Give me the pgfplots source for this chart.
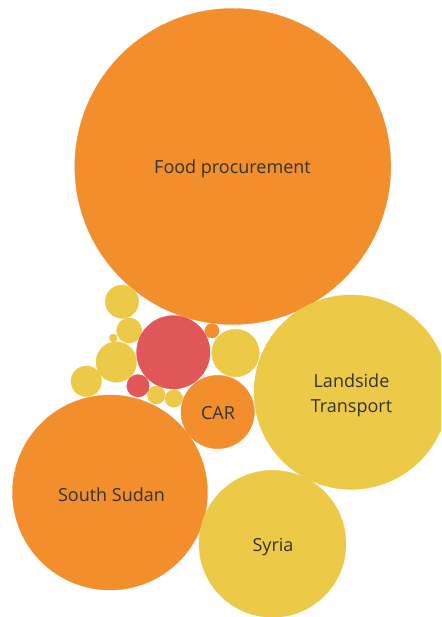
\documentclass[border=0pt]{standalone}
\usepackage{pgfplots}
\pgfplotsset{compat=1.18}
\usepackage{fontspec}
\setmainfont{Open Sans}
\definecolor{torange}{HTML}{F28E2B}
\definecolor{tyellow}{HTML}{EDC948}
\definecolor{tred}{HTML}{E15759}
\definecolor{labelc}{HTML}{333333}
\pgfplotsset{bubble/.style={scatter, only marks, mark=*, color=#1,
  mark options={draw=#1, fill=#1, line width=0.3pt},
  scatter/@pre marker code/.code={\begin{scope}[mark size=\rad]},
  scatter/@post marker code/.code={\end{scope}}}}
\begin{document}
\begin{tikzpicture}
\begin{axis}[
  scale only axis, width=441pt, height=617pt,
  xmin=0, xmax=441, ymin=0, ymax=617, y dir=reverse,
  hide axis, clip marker paths=true,
  visualization depends on={\thisrow{r} \as \rad},
]
\addplot[bubble=torange] table {
x y r
232.8 166.5 158
110 492.5 97.5
217.7 412 36.7
212 330.8 7.2
};
\addplot[bubble=tyellow] table {
x y r
351.2 392.2 97.2
272.5 543.8 73.5
235.5 353 23.8
122 301.7 16.7
129.2 330.5 12.6
113.3 338 4
116.3 362 20.3
86.3 381.3 15.3
156.3 395 9
173.8 398.5 8.8
};
\addplot[bubble=tred] table {
x y r
173.3 352.3 36.7
138 385.8 11.3
};
\coordinate (ll) at (rel axis cs:0,0);
\coordinate (ur) at (rel axis cs:1,1);
\begin{scope}[every node/.style={text=labelc, font=\fontsize{18}{25}\selectfont, align=center}]
\node at (axis cs:232.5,168.5) {Food procurement};
\node at (axis cs:351.5,395) {Landside\\Transport};
\node at (axis cs:111.5,494.5) {South Sudan};
\node at (axis cs:218,413) {CAR};
\node at (axis cs:273,547) {Syria};
\end{scope}
\end{axis}
\pgfresetboundingbox
\path (ll) rectangle (ur);
\end{tikzpicture}
\end{document}
